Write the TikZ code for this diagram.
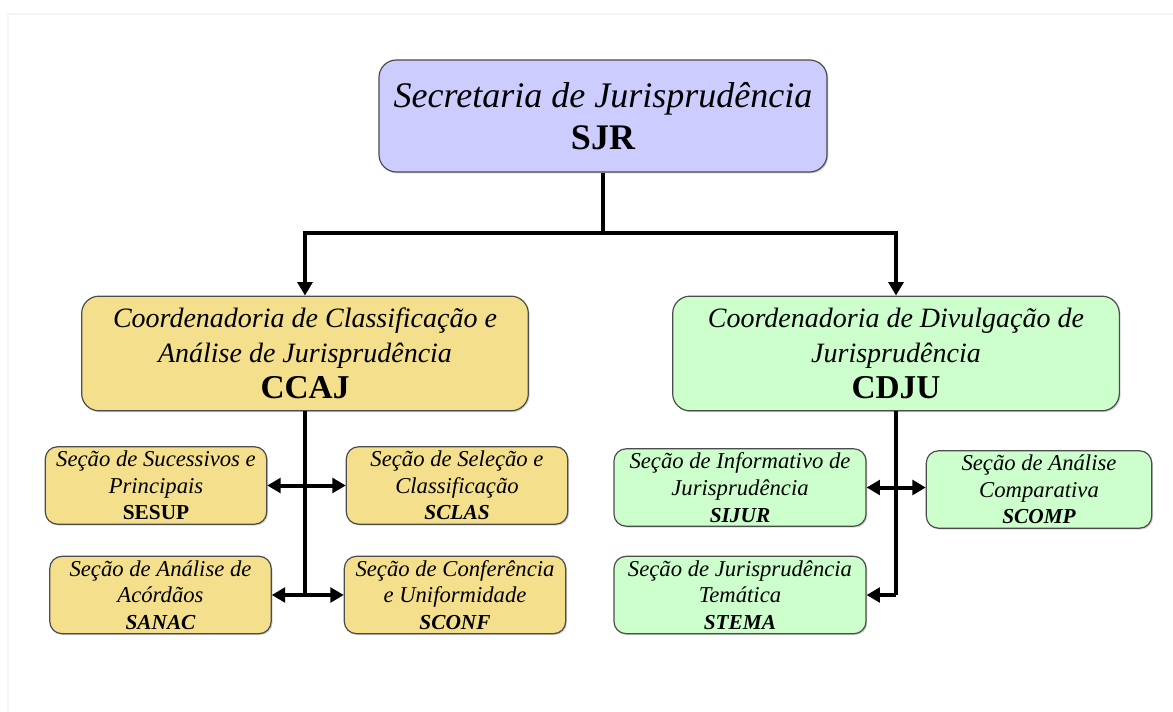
\documentclass[tikz,border=0pt]{standalone}
\usepackage{fontspec}
\setmainfont{Liberation Serif}
\usetikzlibrary{
  arrows.meta,
  positioning,
  shadows
}
\definecolor{sjrblue}{HTML}{CCCCFF}
\definecolor{ccajgold}{HTML}{F3DF8C}
\definecolor{cdjugreen}{HTML}{CCFFCC}
\newcommand{\chieftext}{\fontsize{27}{32}\selectfont\itshape}
\newcommand{\chiefcode}{\fontsize{27}{32}\selectfont\bfseries\upshape}
\newcommand{\coordtext}{\fontsize{21}{26}\selectfont\itshape}
\newcommand{\coordcode}{\fontsize{25}{26}\selectfont\bfseries\upshape}
\newcommand{\secaotext}{\fontsize{17}{20}\selectfont\itshape}
\newcommand{\secaocode}{\fontsize{16}{20}\selectfont\bfseries}

\begin{document}
\begin{tikzpicture}[x=0.75pt,y=-0.75pt,>={Triangle[length=10pt,width=11pt]},
  box/.style={draw=black!70, line width=0.9pt, rounded corners=12pt, align=center, inner sep=2pt,
    drop shadow={shadow xshift=1pt, shadow yshift=-1pt, opacity=0.35}},
  chief/.style={box, fill=sjrblue, minimum width=336pt, minimum height=84pt, rounded corners=13pt, font=\chieftext},
  coord/.style={box, minimum width=335pt, minimum height=86pt, rounded corners=13pt, font=\coordtext},
  secao/.style={box, minimum width=166pt, minimum height=58pt, rounded corners=9pt, font=\secaotext},
  link/.style={line width=3pt}]
\useasboundingbox (0,0) rectangle (1173,712);
\draw[black!4, line width=1pt] (8,712) -- (8,14) -- (1173,14);

% secretaria
\node[chief] (sjr) at (603,116) {Secretaria de Jurisprudência\\ \chiefcode SJR};

% coordenadorias
\node[coord, fill=ccajgold] (ccaj) at (305,353.5)
  {Coordenadoria de Classificação e\\ Análise de Jurisprudência\\[1pt] \coordcode CCAJ};
\node[coord, fill=cdjugreen] (cdju) at (896,353.5)
  {Coordenadoria de Divulgação de\\ Jurisprudência\\[1pt] \coordcode CDJU};

% secoes CCAJ
\node[secao, fill=ccajgold] (sesup) at (156,485.5)
  {Seção de Sucessivos e\\ Principais\\ \secaocode\upshape SESUP};
\node[secao, fill=ccajgold] (sclas) at (457,485.5)
  {Seção de Seleção e\\ Classificação\\ \secaocode\itshape SCLAS};
\node[secao, fill=ccajgold] (sanac) at (160.5,595)
  {Seção de Análise de\\ Acórdãos\\ \secaocode\itshape SANAC};
\node[secao, fill=ccajgold] (sconf) at (455,595)
  {Seção de Conferência\\ e Uniformidade\\ \secaocode\itshape SCONF};

% secoes CDJU
\node[secao, fill=cdjugreen, minimum width=189pt] (sijur) at (740,487.5)
  {Seção de Informativo de\\ Jurisprudência\\ \secaocode\itshape SIJUR};
\node[secao, fill=cdjugreen, minimum width=169pt] (scomp) at (1039,489.5)
  {Seção de Análise\\ Comparativa\\ \secaocode\itshape SCOMP};
\node[secao, fill=cdjugreen, minimum width=189pt] (stema) at (740,595)
  {Seção de Jurisprudência\\ Temática\\ \secaocode\itshape STEMA};

% ligacoes
\coordinate (split) at (603,233);
\draw[link] (sjr.south) -- (split);
\draw[link,->] (split) -| (ccaj.north);
\draw[link,->] (split) -| (cdju.north);

\draw[link] (ccaj.south) -- (ccaj.south |- sanac.east);
\draw[link,<->] (sesup.east) -- (sclas.west);
\draw[link,<->] (sanac.east) -- (sconf.west);

\draw[link] (cdju.south) -- (cdju.south |- stema.east);
\draw[link,<->] (sijur.east) -- (sijur.east -| scomp.west);
\draw[link,->] (cdju.south |- stema.east) -- (stema.east);
\end{tikzpicture}
\end{document}
